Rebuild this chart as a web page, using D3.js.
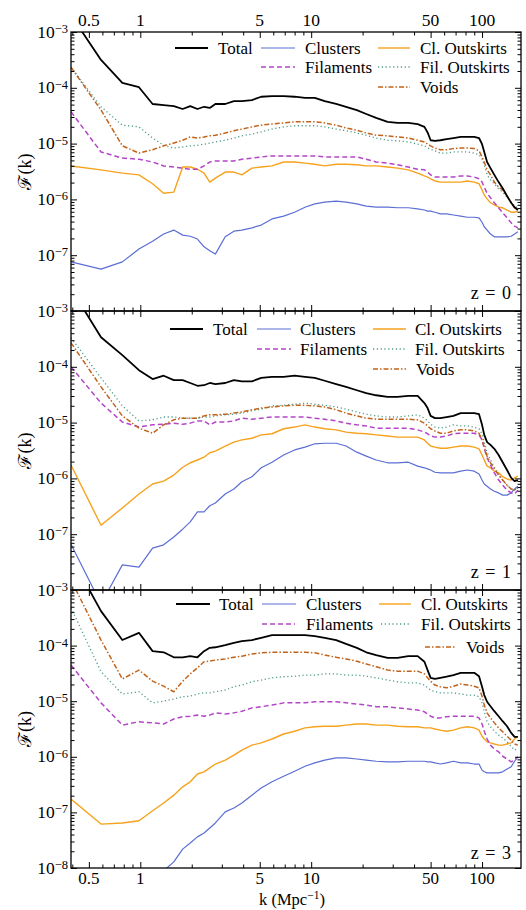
<!DOCTYPE html>
<html><head><meta charset="utf-8">
<script src="https://cdn.jsdelivr.net/npm/d3@7"></script>
<style>body{margin:0;background:#fff}text{font-family:"Liberation Serif","DejaVu Serif",serif;fill:#000}</style>
</head><body><svg id="c" width="526" height="910"></svg>
<script>
// k grid (Mpc^-1)
const K = [0.393,0.589,0.785,0.982,1.18,1.37,1.57,1.77,1.96,2.16,2.36,2.55,2.75,3.14,3.53,3.93,4.5,5.1,
 5.9,6.9,8,9.2,10.5,12,14,16,18.5,21,24,28,32,37,42,46,48,50,53,57,62,68,75,82,90,96,100,103,107,112,118,125,132,140,148,155,162];
// log10 F(k) values
const total0 = [-2.70,-3.50,-3.91,-3.99,-4.29,-4.31,-4.33,-4.38,-4.33,-4.38,-4.34,-4.36,-4.29,-4.29,-4.24,-4.24,-4.22,-4.16,
 -4.15,-4.15,-4.16,-4.18,-4.18,-4.24,-4.29,-4.34,-4.40,-4.47,-4.54,-4.61,-4.63,-4.63,-4.65,-4.70,-4.80,-4.94,-4.95,-4.94,-4.92,-4.90,-4.88,-4.88,-4.88,-4.90,-5.01,-5.15,-5.33,-5.44,-5.56,-5.69,-5.80,-5.94,-6.06,-6.14,-6.19];
const clusters0 = [-7.12,-7.25,-7.12,-6.89,-6.75,-6.62,-6.55,-6.64,-6.66,-6.71,-6.85,-6.92,-6.98,-6.67,-6.57,-6.55,-6.51,-6.46,
 -6.35,-6.30,-6.23,-6.14,-6.08,-6.05,-6.03,-6.05,-6.08,-6.12,-6.14,-6.14,-6.15,-6.15,-6.17,-6.19,-6.21,-6.21,-6.23,-6.26,-6.26,-6.28,-6.30,-6.32,-6.32,-6.33,-6.41,-6.49,-6.55,-6.62,-6.67,-6.67,-6.67,-6.67,-6.66,-6.62,-6.58];
const clOut0 = [-5.40,-5.47,-5.53,-5.56,-5.72,-5.89,-5.87,-5.42,-5.42,-5.46,-5.53,-5.69,-5.62,-5.51,-5.51,-5.56,-5.44,-5.42,
 -5.40,-5.33,-5.33,-5.35,-5.37,-5.40,-5.37,-5.37,-5.38,-5.40,-5.40,-5.42,-5.44,-5.47,-5.53,-5.58,-5.60,-5.63,-5.67,-5.69,-5.69,-5.69,-5.69,-5.67,-5.69,-5.72,-5.83,-5.92,-5.99,-6.06,-6.10,-6.14,-6.15,-6.19,-6.23,-6.23,-6.21];
const fil0 = [-4.43,-5.15,-5.26,-5.28,-5.33,-5.40,-5.42,-5.44,-5.46,-5.46,-5.40,-5.33,-5.31,-5.31,-5.31,-5.28,-5.26,-5.24,
 -5.22,-5.22,-5.22,-5.22,-5.22,-5.24,-5.24,-5.24,-5.24,-5.28,-5.33,-5.35,-5.38,-5.42,-5.46,-5.47,-5.51,-5.56,-5.60,-5.60,-5.60,-5.60,-5.58,-5.58,-5.60,-5.63,-5.69,-5.78,-5.89,-5.97,-6.06,-6.15,-6.24,-6.33,-6.42,-6.48,-6.51];
const filOut0 = [-3.63,-4.34,-4.67,-4.70,-4.90,-5.03,-5.08,-5.06,-5.04,-5.03,-5.01,-4.99,-4.97,-4.94,-4.90,-4.86,-4.83,-4.79,
 -4.74,-4.70,-4.68,-4.68,-4.68,-4.70,-4.74,-4.77,-4.81,-4.85,-4.90,-4.94,-4.95,-4.97,-5.01,-5.04,-5.08,-5.10,-5.13,-5.17,-5.17,-5.15,-5.15,-5.15,-5.17,-5.20,-5.28,-5.38,-5.56,-5.65,-5.72,-5.81,-5.87,-5.96,-6.05,-6.12,-6.15];
const voids0 = [-3.63,-4.40,-5.04,-5.17,-5.11,-5.04,-4.99,-4.94,-4.88,-4.90,-4.88,-4.86,-4.85,-4.81,-4.77,-4.74,-4.70,-4.67,
 -4.65,-4.63,-4.61,-4.61,-4.61,-4.63,-4.67,-4.72,-4.76,-4.81,-4.85,-4.86,-4.88,-4.90,-4.94,-4.97,-5.01,-5.04,-5.08,-5.11,-5.11,-5.09,-5.08,-5.08,-5.09,-5.13,-5.24,-5.33,-5.47,-5.56,-5.69,-5.78,-5.83,-5.94,-6.06,-6.15,-6.19];

const total1 = [-2.60,-3.47,-3.79,-4.06,-4.22,-4.16,-4.24,-4.24,-4.29,-4.34,-4.33,-4.29,-4.31,-4.29,-4.24,-4.26,-4.26,-4.20,
 -4.18,-4.18,-4.16,-4.18,-4.20,-4.25,-4.31,-4.36,-4.42,-4.47,-4.51,-4.54,-4.54,-4.52,-4.52,-4.65,-4.74,-4.88,-4.92,-4.92,-4.90,-4.88,-4.83,-4.83,-4.83,-4.85,-5.04,-5.22,-5.35,-5.40,-5.47,-5.58,-5.71,-5.85,-5.99,-6.05,-6.03];
const clusters1 = [-7.18,-8.25,-7.55,-7.59,-7.25,-7.19,-7.05,-6.91,-6.78,-6.60,-6.60,-6.49,-6.44,-6.28,-6.19,-6.06,-5.97,-5.81,
 -5.71,-5.58,-5.49,-5.44,-5.38,-5.37,-5.37,-5.42,-5.53,-5.60,-5.67,-5.72,-5.72,-5.71,-5.78,-5.81,-5.83,-5.85,-5.89,-5.90,-5.90,-5.90,-5.87,-5.85,-5.87,-5.92,-6.03,-6.10,-6.14,-6.19,-6.23,-6.26,-6.30,-6.30,-6.26,-6.19,-6.14];
const clOut1 = [-5.76,-6.84,-6.53,-6.28,-6.10,-6.05,-5.94,-5.80,-5.72,-5.67,-5.62,-5.54,-5.51,-5.42,-5.35,-5.31,-5.28,-5.22,
 -5.20,-5.11,-5.08,-5.04,-5.08,-5.11,-5.13,-5.17,-5.19,-5.20,-5.22,-5.24,-5.26,-5.26,-5.26,-5.31,-5.37,-5.42,-5.44,-5.46,-5.46,-5.44,-5.42,-5.42,-5.44,-5.47,-5.58,-5.67,-5.78,-5.81,-5.87,-5.90,-5.97,-6.01,-6.03,-5.99,-5.96];
const fil1 = [-4.00,-4.65,-4.99,-5.08,-5.04,-5.03,-5.01,-5.03,-5.01,-4.97,-4.97,-5.04,-4.99,-4.99,-4.97,-4.92,-4.94,-4.92,
 -4.90,-4.90,-4.90,-4.90,-4.92,-4.94,-4.97,-5.01,-5.04,-5.06,-5.10,-5.10,-5.10,-5.10,-5.13,-5.17,-5.20,-5.24,-5.26,-5.26,-5.24,-5.20,-5.19,-5.19,-5.19,-5.22,-5.31,-5.46,-5.63,-5.76,-5.90,-6.03,-6.12,-6.21,-6.26,-6.28,-6.21];
const filOut1 = [-3.48,-4.20,-4.70,-4.97,-4.95,-4.90,-4.90,-4.92,-4.92,-4.92,-4.90,-4.90,-4.88,-4.86,-4.85,-4.83,-4.79,-4.76,
 -4.70,-4.69,-4.67,-4.65,-4.67,-4.69,-4.72,-4.76,-4.81,-4.85,-4.88,-4.90,-4.90,-4.88,-4.86,-4.92,-4.97,-5.03,-5.08,-5.10,-5.08,-5.04,-5.06,-5.06,-5.08,-5.11,-5.20,-5.35,-5.53,-5.67,-5.80,-5.92,-6.03,-6.12,-6.19,-6.21,-6.17];
const voids1 = [-3.57,-4.36,-4.88,-5.10,-5.19,-5.04,-4.95,-4.92,-4.92,-4.92,-4.88,-4.86,-4.86,-4.85,-4.83,-4.81,-4.77,-4.74,
 -4.72,-4.70,-4.69,-4.69,-4.70,-4.72,-4.77,-4.83,-4.88,-4.92,-4.94,-4.94,-4.94,-4.94,-4.95,-5.01,-5.06,-5.11,-5.15,-5.19,-5.19,-5.15,-5.13,-5.13,-5.15,-5.19,-5.31,-5.44,-5.60,-5.72,-5.83,-5.94,-6.03,-6.12,-6.19,-6.21,-6.17];

const total3 = [-2.40,-3.38,-3.90,-3.77,-4.10,-4.12,-4.21,-4.21,-4.19,-4.21,-4.10,-4.04,-4.03,-3.99,-3.95,-3.92,-3.90,-3.86,
 -3.81,-3.81,-3.81,-3.81,-3.83,-3.86,-3.90,-3.97,-4.04,-4.12,-4.17,-4.22,-4.22,-4.19,-4.19,-4.29,-4.44,-4.58,-4.60,-4.58,-4.56,-4.53,-4.49,-4.49,-4.49,-4.55,-4.74,-4.89,-5.01,-5.09,-5.18,-5.27,-5.36,-5.45,-5.57,-5.64,-5.64];
const clusters3 = [null,null,null,null,-8.30,-8.05,-7.89,-7.66,-7.55,-7.44,-7.37,-7.28,-7.19,-6.99,-6.92,-6.83,-6.69,-6.56,
 -6.45,-6.35,-6.26,-6.17,-6.11,-6.06,-6.02,-6.02,-6.04,-6.06,-6.08,-6.09,-6.09,-6.08,-6.08,-6.08,-6.09,-6.09,-6.11,-6.13,-6.11,-6.08,-6.11,-6.11,-6.13,-6.13,-6.24,-6.27,-6.29,-6.29,-6.29,-6.29,-6.27,-6.22,-6.18,-6.08,-6.00];
const clOut3 = [-6.76,-7.21,-7.19,-7.15,-6.97,-6.83,-6.69,-6.54,-6.45,-6.31,-6.27,-6.20,-6.13,-6.06,-5.97,-5.88,-5.79,-5.75,
 -5.68,-5.59,-5.54,-5.48,-5.46,-5.45,-5.45,-5.43,-5.41,-5.41,-5.43,-5.43,-5.45,-5.46,-5.46,-5.48,-5.48,-5.48,-5.50,-5.52,-5.54,-5.52,-5.48,-5.46,-5.48,-5.52,-5.63,-5.68,-5.73,-5.75,-5.77,-5.79,-5.79,-5.77,-5.75,-5.68,-5.63];
const fil3 = [-4.35,-5.03,-5.43,-5.37,-5.39,-5.41,-5.32,-5.28,-5.27,-5.25,-5.27,-5.25,-5.21,-5.23,-5.21,-5.18,-5.12,-5.10,
 -5.07,-5.03,-5.03,-5.03,-5.01,-5.01,-5.01,-5.03,-5.05,-5.07,-5.10,-5.10,-5.12,-5.14,-5.16,-5.19,-5.23,-5.27,-5.30,-5.30,-5.28,-5.27,-5.27,-5.27,-5.27,-5.30,-5.41,-5.54,-5.68,-5.79,-5.86,-5.91,-5.99,-6.04,-6.09,-6.06,-6.00];
const filOut3 = [-3.32,-4.47,-4.87,-4.83,-5.03,-5.00,-4.96,-4.92,-4.91,-4.87,-4.85,-4.85,-4.83,-4.80,-4.74,-4.71,-4.65,-4.62,
 -4.58,-4.56,-4.55,-4.53,-4.53,-4.51,-4.51,-4.53,-4.53,-4.55,-4.58,-4.62,-4.65,-4.67,-4.67,-4.71,-4.76,-4.80,-4.83,-4.85,-4.85,-4.85,-4.87,-4.89,-4.89,-4.92,-5.03,-5.19,-5.37,-5.46,-5.54,-5.61,-5.66,-5.73,-5.81,-5.88,-5.85];
const voids3 = [-2.82,-3.90,-4.60,-4.44,-4.64,-4.73,-4.83,-4.64,-4.51,-4.40,-4.29,-4.28,-4.26,-4.24,-4.21,-4.19,-4.15,-4.13,
 -4.12,-4.12,-4.12,-4.12,-4.13,-4.17,-4.21,-4.24,-4.28,-4.33,-4.38,-4.44,-4.46,-4.46,-4.46,-4.51,-4.58,-4.64,-4.71,-4.74,-4.76,-4.73,-4.69,-4.71,-4.73,-4.76,-4.91,-5.07,-5.21,-5.30,-5.39,-5.48,-5.55,-5.63,-5.70,-5.77,-5.79];

const seriesNames = ["Total","Clusters","Cl. Outskirts","Filaments","Fil. Outskirts","Voids"];
const panelLabels = ["z = 0","z = 1","z = 3"];
const panelData = [
  [total0,clusters0,clOut0,fil0,filOut0,voids0],
  [total1,clusters1,clOut1,fil1,filOut1,voids1],
  [total3,clusters3,clOut3,fil3,filOut3,voids3]];
const xMajorTicks = [0.5,1,5,10,50,100];
const xTickLabels = ["0.5","1","5","10","50","100"];
const xMinorTicks = [0.4,0.6,0.7,0.8,0.9,2,3,4,6,7,8,9,20,30,40,60,70,80,90];
const yDecades = [-8,-7,-6,-5,-4,-3];

const styles = [
  {c:"#000000", w:1.8, d:null},
  {c:"#5b6ed4", w:1.2, d:null},
  {c:"#f6a21d", w:1.4, d:null},
  {c:"#b445c8", w:1.5, d:"5,3"},
  {c:"#4f9a88", w:1.3, d:"1.2,2.6"},
  {c:"#c2631a", w:1.5, d:"5,2,1.5,2"}];

const svg = d3.select("#c");
const X0=71, X1=521;
const tops=[32,311,590], bots=[311,590,868];
const x = d3.scaleLog().domain([0.393,169]).range([X0,X1]);
const FS=17;

const legendPos = [
  {rows:[48,67,87], items:[[175,208,218,0],[261,295,305,0],[378,410,420,0],[261,295,305,1],[378,410,420,1],[378,410,420,2]]},
  {rows:[329,349,369], items:[[170,203,213,0],[257,291,300,0],[373,406,415,0],[257,291,300,1],[373,406,415,1],[373,406,416,2]]},
  {rows:[604,624,647], items:[[176,210,219,0],[262,296,306,0],[379,411,421,0],[262,295,306,1],[381,410,421,1],[425,455,466,2]]}];
const zLabelY=[299,578,859];

panelData.forEach((series,p)=>{
  const y = d3.scaleLog().domain([1e-8,1e-3]).range([bots[p],tops[p]]);
  const g = svg.append("g");
  const cid="clip"+p;
  svg.append("clipPath").attr("id",cid).append("rect")
    .attr("x",X0).attr("y",tops[p]).attr("width",X1-X0).attr("height",bots[p]-tops[p]);
  const lines = g.append("g").attr("clip-path",`url(#${cid})`);
  const line = d3.line().defined(d=>d[1]!==null).x(d=>x(d[0])).y(d=>y(Math.pow(10,d[1])));
  [1,2,3,4,5,0].forEach(i=>{
    const pts = K.map((k,j)=>[k,series[i][j]]);
    lines.append("path").attr("d",line(pts)).attr("fill","none")
      .attr("stroke",styles[i].c).attr("stroke-width",styles[i].w)
      .attr("stroke-dasharray",styles[i].d).attr("stroke-linejoin","round");
  });
  const mk=(axis,len,vals)=>axis.tickValues(vals).tickSize(-len).tickFormat("");
  const ax=[
    [d3.axisBottom(x),`translate(0,${bots[p]})`,6,xMajorTicks],
    [d3.axisBottom(x),`translate(0,${bots[p]})`,3.5,xMinorTicks],
    [d3.axisTop(x),`translate(0,${tops[p]})`,6,xMajorTicks],
    [d3.axisTop(x),`translate(0,${tops[p]})`,3.5,xMinorTicks]];
  const yMaj = yDecades.map(e=>Math.pow(10,e));
  const yMin=[]; for(let e=-8;e<-3;e++) for(let m=2;m<10;m++) yMin.push(m*Math.pow(10,e));
  ax.push([d3.axisLeft(y),`translate(${X0},0)`,6,yMaj]);
  ax.push([d3.axisLeft(y),`translate(${X0},0)`,3.5,yMin]);
  ax.push([d3.axisRight(y),`translate(${X1},0)`,6,yMaj]);
  ax.push([d3.axisRight(y),`translate(${X1},0)`,3.5,yMin]);
  ax.forEach(([a,t,len,vals])=>{
    const ag=g.append("g").attr("transform",t).call(mk(a,len,vals));
    ag.select(".domain").remove();
    ag.selectAll("line").attr("stroke","#000").attr("stroke-width",1);
  });
  g.append("rect").attr("x",X0).attr("y",tops[p]).attr("width",X1-X0).attr("height",bots[p]-tops[p])
    .attr("fill","none").attr("stroke","#000").attr("stroke-width",1.3);
  const labDec = p===2 ? yDecades : yDecades.slice(1);
  labDec.forEach(e=>{
    const t=g.append("text").attr("x",68).attr("y",y(Math.pow(10,e))+5.5).attr("text-anchor","end").attr("font-size",17.5);
    t.append("tspan").text("10");
    t.append("tspan").attr("dy",-4.5).attr("font-size",12.5).text("\u2212"+(-e));
  });
  g.append("text").attr("transform",`translate(31,${(tops[p]+bots[p])/2}) rotate(-90)`)
    .attr("text-anchor","middle").attr("font-size",18).text("\u2131(k)");
  g.append("text").attr("x",511).attr("y",zLabelY[p]).attr("text-anchor","end").attr("font-size",18)
    .attr("word-spacing",2).text(panelLabels[p]);
  const L=legendPos[p];
  L.items.forEach((it,i)=>{
    const yy=L.rows[it[3]];
    g.append("line").attr("x1",it[0]).attr("x2",it[1]).attr("y1",yy).attr("y2",yy)
      .attr("stroke",styles[i].c).attr("stroke-width",styles[i].w).attr("stroke-dasharray",styles[i].d);
    g.append("text").attr("x",it[2]).attr("y",yy+5.5).attr("font-size",FS).attr("textLength",null).text(seriesNames[i]);
  });
});
xMajorTicks.forEach((v,i)=>{
  svg.append("text").attr("x",x(v)).attr("y",25.5).attr("text-anchor","middle").attr("font-size",17.5).text(xTickLabels[i]);
  svg.append("text").attr("x",x(v)).attr("y",884).attr("text-anchor","middle").attr("font-size",17).text(xTickLabels[i]);
});
const xl=svg.append("text").attr("x",292).attr("y",905).attr("text-anchor","middle").attr("font-size",16.5);
xl.append("tspan").text("k (Mpc");
xl.append("tspan").attr("dy",-6).attr("font-size",11.5).text("\u22121");
xl.append("tspan").attr("dy",6).text(")");
</script></body></html>
